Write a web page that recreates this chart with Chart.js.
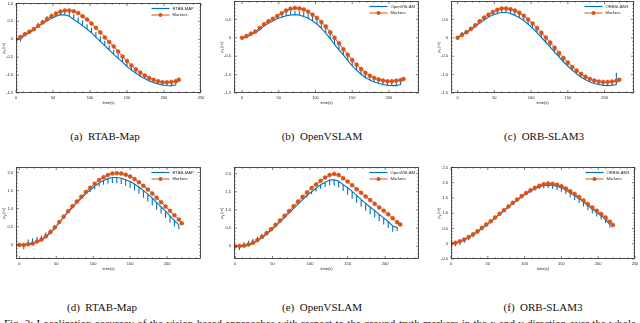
<!DOCTYPE html>
<html>
<head>
<meta charset="utf-8">
<script src="https://cdn.jsdelivr.net/npm/chart.js@4.4.0/dist/chart.umd.min.js"></script>
<style>
  html, body { margin: 0; padding: 0; background: #fff; width: 640px; height: 323px; overflow: hidden; }
  .panel { position: absolute; }
  .cap { position: absolute; font-family: "Liberation Serif", "DejaVu Serif", serif; font-size: 11px; line-height: 13px; color: #111; white-space: pre; transform: translate(-50%, -50%); }
  #figcap { position: absolute; left: 4px; top: 317px; width: 632px; font-family: "Liberation Serif", serif; font-size: 11px; line-height: 13px; color: #222; text-align: justify; }
</style>
</head>
<body>
<div id="figcap">Fig. 3: Localization accuracy of the vision-based approaches with respect to the ground-truth markers in the x and y direction over the whole trajectory of the robot.</div>
<script>
// time stamps of the marker readings (s)
const markerTime = [0, 6, 12, 18, 24, 30, 36, 42, 48, 54, 60, 66, 72, 78, 84, 90, 96, 102, 108, 114, 120, 126, 132, 138, 144, 150, 156, 162, 168, 174, 180, 186, 192, 198, 204, 210, 216, 220]

// x direction (top row)
const markersX_rtab = [0, 0.06, 0.14, 0.21, 0.28, 0.37, 0.47, 0.56, 0.64, 0.71, 0.77, 0.8, 0.8, 0.78, 0.73, 0.64, 0.55, 0.44, 0.32, 0.19, 0.05, -0.08, -0.2, -0.34, -0.48, -0.61, -0.73, -0.84, -0.93, -1.01, -1.08, -1.13, -1.17, -1.2, -1.2, -1.19, -1.17, -1.13]
const rtabX = [0, 0, 0.12, 0.18, 0.26, 0.36, 0.44, 0.52, 0.58, 0.64, 0.68, 0.68, 0.64, 0.55, 0.47, 0.38, 0.28, 0.18, 0.06, -0.06, -0.18, -0.3, -0.42, -0.53, -0.64, -0.76, -0.86, -0.95, -1.03, -1.1, -1.16, -1.21, -1.25, -1.28, -1.29, -1.3, -1.27]
const rtabXJump = [0, -0.06, 0.08, 0.08, 0.08, 0.1, 0.1, 0.12, 0.14, 0.15, 0.15, 0.14, 0.14, 0.14, 0.14, 0.14, 0.14, 0.14, 0.14, 0.14, 0.14, 0.13, 0.13, 0.13, 0.13, 0.12, 0.12, 0.12, 0.11, 0.11, 0.1, 0.1, 0.1, 0.1, 0.1, 0.12, 0.1]

const markersX_ovs = [0, 0.05, 0.11, 0.17, 0.27, 0.37, 0.45, 0.52, 0.59, 0.67, 0.74, 0.79, 0.81, 0.8, 0.77, 0.71, 0.63, 0.54, 0.43, 0.31, 0.15, 0, -0.15, -0.31, -0.46, -0.6, -0.73, -0.85, -0.95, -1.03, -1.09, -1.13, -1.16, -1.18, -1.18, -1.17, -1.15, -1.12]
const ovsX = [0, 0, 0.1, 0.14, 0.22, 0.32, 0.4, 0.46, 0.52, 0.56, 0.6, 0.62, 0.63, 0.62, 0.58, 0.53, 0.46, 0.37, 0.26, 0.13, -0.02, -0.18, -0.33, -0.47, -0.62, -0.76, -0.88, -0.99, -1.08, -1.15, -1.2, -1.24, -1.27, -1.29, -1.3, -1.3, -1.27]
const ovsXJump = [0, 0, 0.07, 0.07, 0.08, 0.08, 0.09, 0.1, 0.1, 0.1, 0.1, 0.1, 0.1, 0.1, 0.12, 0.12, 0.13, 0.14, 0.14, 0.14, 0.14, 0.14, 0.13, 0.13, 0.13, 0.12, 0.12, 0.11, 0.1, 0.1, 0.1, 0.09, 0.09, 0.09, 0.09, 0.08, 0.08]

const markersX_orb = [0, 0.08, 0.15, 0.24, 0.34, 0.45, 0.55, 0.63, 0.7, 0.76, 0.8, 0.8, 0.78, 0.74, 0.68, 0.6, 0.5, 0.39, 0.27, 0.14, 0.01, -0.13, -0.27, -0.41, -0.55, -0.67, -0.79, -0.89, -0.98, -1.06, -1.12, -1.16, -1.19, -1.2, -1.2, -1.19, -1.17, -1.14]
const orbX = [0, 0.1, 0.14, 0.22, 0.3, 0.4, 0.48, 0.56, 0.62, 0.66, 0.69, 0.69, 0.66, 0.61, 0.55, 0.47, 0.37, 0.26, 0.14, 0.01, -0.12, -0.25, -0.39, -0.52, -0.65, -0.77, -0.88, -0.98, -1.07, -1.14, -1.2, -1.24, -1.27, -1.29, -1.3, -1.29, -1.27]
const orbXJump = [0, 0.06, 0.08, 0.08, 0.08, 0.09, 0.1, 0.1, 0.1, 0.1, 0.1, 0.1, 0.1, 0.12, 0.12, 0.12, 0.13, 0.13, 0.13, 0.13, 0.13, 0.12, 0.12, 0.12, 0.12, 0.11, 0.11, 0.1, 0.1, 0.1, 0.1, 0.09, 0.09, 0.09, 0.1, 0.1, 0.32]

// y direction (bottom row)
const markersY_rtab = [0, 0, 0.02, 0.04, 0.09, 0.15, 0.24, 0.35, 0.48, 0.63, 0.78, 0.93, 1.07, 1.2, 1.33, 1.46, 1.58, 1.69, 1.79, 1.87, 1.93, 1.97, 1.98, 1.97, 1.94, 1.89, 1.82, 1.73, 1.63, 1.53, 1.42, 1.3, 1.18, 1.06, 0.94, 0.82, 0.7, 0.6]
const rtabY = [0, 0, 0.01, 0.04, 0.08, 0.13, 0.22, 0.33, 0.46, 0.61, 0.76, 0.9, 1.04, 1.17, 1.29, 1.41, 1.52, 1.62, 1.71, 1.78, 1.83, 1.86, 1.86, 1.84, 1.8, 1.75, 1.68, 1.6, 1.5, 1.4, 1.29, 1.17, 1.05, 0.93, 0.8, 0.67, 0.55]
const rtabYJump = [0, -0.12, 0.14, 0.14, 0.14, 0.13, 0.12, 0.1, 0.08, 0.06, 0.06, 0.05, 0.05, 0.05, 0.05, 0.05, -0.06, -0.08, -0.1, -0.12, -0.14, -0.15, -0.16, -0.16, -0.17, -0.18, -0.18, -0.19, -0.2, -0.2, -0.2, -0.2, -0.18, -0.18, -0.18, -0.16, -0.12]

const markersY_ovs = [0, 0.01, 0.02, 0.05, 0.1, 0.17, 0.26, 0.36, 0.47, 0.59, 0.71, 0.84, 0.97, 1.1, 1.23, 1.36, 1.48, 1.6, 1.7, 1.8, 1.89, 1.96, 1.99, 1.96, 1.87, 1.78, 1.68, 1.57, 1.47, 1.37, 1.27, 1.17, 1.07, 0.98, 0.88, 0.77, 0.66, 0.6]
const ovsY = [0, 0, -0.01, 0.03, 0.08, 0.15, 0.24, 0.33, 0.44, 0.55, 0.67, 0.79, 0.92, 1.04, 1.16, 1.28, 1.4, 1.5, 1.6, 1.69, 1.76, 1.82, 1.83, 1.79, 1.7, 1.61, 1.51, 1.4, 1.29, 1.18, 1.08, 0.98, 0.88, 0.78, 0.68, 0.56, 0.52]
const ovsYJump = [0, -0.1, 0.12, 0.12, 0.12, 0.12, 0.1, 0.1, 0.08, 0.07, 0.06, 0.05, 0.05, 0.05, 0.05, 0.05, -0.06, -0.07, -0.09, -0.11, -0.13, -0.15, -0.16, -0.17, -0.18, -0.19, -0.2, -0.2, -0.2, -0.2, -0.2, -0.19, -0.19, -0.18, -0.18, -0.16, -0.1]

const markersY_orb = [0, 0.03, 0.08, 0.14, 0.22, 0.31, 0.41, 0.52, 0.63, 0.74, 0.86, 0.98, 1.1, 1.22, 1.34, 1.45, 1.56, 1.66, 1.75, 1.83, 1.9, 1.95, 1.97, 1.96, 1.93, 1.88, 1.81, 1.72, 1.63, 1.53, 1.42, 1.3, 1.19, 1.08, 0.97, 0.86, 0.72, 0.61]
const orbY = [0, 0.02, 0.06, 0.12, 0.2, 0.29, 0.39, 0.5, 0.61, 0.72, 0.84, 0.96, 1.08, 1.2, 1.32, 1.43, 1.54, 1.64, 1.73, 1.81, 1.87, 1.91, 1.92, 1.91, 1.88, 1.83, 1.76, 1.67, 1.58, 1.48, 1.37, 1.25, 1.14, 1.03, 0.92, 0.8, 0.62]
const orbYJump = [0, -0.1, -0.1, -0.1, -0.09, -0.08, -0.07, -0.06, -0.05, -0.05, -0.04, -0.04, -0.04, -0.04, -0.04, -0.05, -0.05, -0.05, -0.06, -0.07, -0.08, -0.09, -0.1, -0.11, -0.12, -0.13, -0.14, -0.15, -0.15, -0.15, -0.15, -0.15, -0.14, -0.14, -0.13, -0.12, -0.1]

const methodNames = ['RTAB-MAP', 'OpenVSLAM', 'ORBSLAM3']
const captions = ['(a)  RTAB-Map', '(b)  OpenVSLAM', '(c)  ORB-SLAM3', '(d)  RTAB-Map', '(e)  OpenVSLAM', '(f)  ORB-SLAM3']
const timeTicks = [0, 50, 100, 150, 200, 250]
const posTicksX = [-1.5, -1, -0.5, 0, 0.5, 1]
const posTicksY = [-0.5, 0, 0.5, 1, 1.5, 2, 2.5]

const BLUE = '#0072BD'
const ORANGE = '#D95319'
const INK = '#262626'
const SANS = '"Liberation Sans", Arial, sans-serif'

// panel boxes on the page (plot area) and axis limits
const panels = [
  { box: [16, 2, 201, 93], x: [0, 250], y: [-1.5, 1], axis: 'x', name: methodNames[0], track: rtabX, jump: rtabXJump, markers: markersX_rtab, cap: [105, 136] },
  { box: [234, 0, 419, 93], x: [-11, 241], y: [-1.5, 0.99], axis: 'x', name: methodNames[1], track: ovsX, jump: ovsXJump, markers: markersX_ovs, cap: [322, 136] },
  { box: [451, 0, 634, 93], x: [-9, 240], y: [-1.5, 0.99], axis: 'x', name: methodNames[2], track: orbX, jump: orbXJump, markers: markersX_orb, cap: [544, 136] },
  { box: [16, 166, 201, 259], x: [-4.5, 246], y: [-0.39, 2.14], axis: 'y', name: methodNames[0], track: rtabY, jump: rtabYJump, markers: markersY_rtab, cap: [102, 306.5] },
  { box: [234, 166, 419, 259], x: [-1.3, 245], y: [-0.35, 2.17], axis: 'y', name: methodNames[1], track: ovsY, jump: ovsYJump, markers: markersY_ovs, cap: [322, 306.5] },
  { box: [451, 166, 635, 259], x: [0, 250], y: [-0.5, 2.5], axis: 'y', name: methodNames[2], track: orbY, jump: orbYJump, markers: markersY_orb, cap: [543, 306.5] }
]

// estimated track: value at each reading plus the correction spike
function trackPoints(t, v, jump) {
  const pts = []
  v.forEach((y, i) => {
    pts.push({ x: t[i], y })
    if (jump[i]) {
      pts.push({ x: t[i], y: y + jump[i] })
      pts.push({ x: t[i], y })
    }
  })
  return pts
}

// only the listed tick values that fall inside the axis limits
const fixedTicks = list => s => {
  s.ticks = list.filter(v => v >= s.min - 1e-9 && v <= s.max + 1e-9).map(v => ({ value: v }))
}

// matlab style box, inward ticks, legend and y label
const frame = {
  id: 'frame',
  afterDatasetsDraw(chart, args, opts) {
    const { ctx, chartArea: a, scales } = chart
    const L = Math.round(a.left) + 0.5, R = Math.round(a.right) - 0.5
    const T = Math.round(a.top) + 0.5, B = Math.round(a.bottom) - 0.5
    ctx.save()
    ctx.strokeStyle = INK
    ctx.lineWidth = 0.8
    ctx.strokeRect(L, T, R - L, B - T)

    const tick = (x1, y1, x2, y2) => { ctx.beginPath(); ctx.moveTo(x1, y1); ctx.lineTo(x2, y2); ctx.stroke() }
    const xs = scales.x, ys = scales.y
    ctx.lineWidth = 0.6
    for (let v = Math.ceil(xs.min / 10) * 10; v <= xs.max; v += 10) {
      const px = xs.getPixelForValue(v)
      const len = v % 50 === 0 ? 2.5 : 1.2
      tick(px, B, px, B - len); tick(px, T, px, T + len)
    }
    for (let k = Math.ceil(ys.min * 10 - 1e-6); k <= ys.max * 10 + 1e-6; k++) {
      const py = ys.getPixelForValue(k / 10)
      const len = k % 5 === 0 ? 2.5 : 1.2
      tick(L, py, L + len, py); tick(R, py, R - len, py)
    }

    // legend
    ctx.font = '4.2px ' + SANS
    ctx.textBaseline = 'middle'
    const lx = R - 49, r1 = T + 5, r2 = T + 11.5
    ctx.lineWidth = 1.2
    ctx.strokeStyle = BLUE
    tick(lx, r1, lx + 18, r1)
    ctx.strokeStyle = ORANGE
    ctx.lineWidth = 1
    tick(lx, r2, lx + 18, r2)
    ctx.fillStyle = ORANGE
    ctx.beginPath(); ctx.arc(lx + 9, r2, 2, 0, Math.PI * 2); ctx.fill()
    ctx.fillStyle = INK
    ctx.fillText(opts.name, lx + 21, r1 + 0.3)
    ctx.fillText('Markers', lx + 21, r2 + 0.3)

    // y label: p_x [m] / p_y [m]
    const cy = (a.top + a.bottom) / 2
    ctx.translate(a.left - 13, cy)
    ctx.rotate(-Math.PI / 2)
    ctx.textBaseline = 'alphabetic'
    ctx.font = '4px ' + SANS
    const w1 = ctx.measureText('p').width
    const w3 = ctx.measureText(' [m]').width
    ctx.font = '3.2px ' + SANS
    const w2 = ctx.measureText(opts.axis).width
    const x0 = -(w1 + w2 + w3) / 2
    ctx.font = '4px ' + SANS
    ctx.fillText('p', x0, 1.5)
    ctx.fillText(' [m]', x0 + w1 + w2, 1.5)
    ctx.font = '3.2px ' + SANS
    ctx.fillText(opts.axis, x0 + w1, 2.8)
    ctx.restore()
  }
}

const padL = 2, axW = 14, padR = 8, padT = 4, axH = 14, padB = 2

panels.forEach((p, i) => {
  const [cl, ct, cr, cb] = p.box
  const cw = cr - cl + padL + axW + padR
  const ch = cb - ct + padT + axH + padB
  const wrap = document.createElement('div')
  wrap.className = 'panel'
  wrap.style.left = (cl - padL - axW) + 'px'
  wrap.style.top = (ct - padT) + 'px'
  const cv = document.createElement('canvas')
  cv.width = cw
  cv.height = ch
  cv.style.width = cw + 'px'
  cv.style.height = ch + 'px'
  wrap.appendChild(cv)
  document.body.appendChild(wrap)

  const tickFont = { family: SANS, size: 4 }
  new Chart(cv.getContext('2d'), {
    type: 'line',
    data: {
      datasets: [
        {
          label: p.name,
          data: trackPoints(markerTime, p.track, p.jump),
          borderColor: BLUE,
          borderWidth: 1.1,
          pointRadius: 0,
          tension: 0,
          order: 1
        },
        {
          label: 'Markers',
          data: markerTime.map((t, k) => ({ x: t, y: p.markers[k] })),
          borderColor: ORANGE,
          backgroundColor: ORANGE,
          borderWidth: 1,
          pointRadius: 2,
          pointBorderWidth: 0.5,
          tension: 0,
          order: 0
        }
      ]
    },
    options: {
      responsive: false,
      animation: false,
      events: [],
      layout: { padding: { left: padL, right: padR, top: padT, bottom: padB } },
      plugins: {
        legend: { display: false },
        tooltip: { enabled: false },
        frame: { name: p.name, axis: p.axis }
      },
      scales: {
        x: {
          type: 'linear',
          min: p.x[0],
          max: p.x[1],
          grid: { display: false, drawTicks: false },
          border: { display: false },
          afterBuildTicks: fixedTicks(timeTicks),
          ticks: { autoSkip: false, maxRotation: 0, padding: 2, color: INK, font: tickFont },
          title: { display: true, text: 'time(s)', color: INK, font: tickFont, padding: { top: 0, bottom: 2 } },
          afterFit: s => { s.height = axH }
        },
        y: {
          type: 'linear',
          min: p.y[0],
          max: p.y[1],
          grid: { display: false, drawTicks: false },
          border: { display: false },
          afterBuildTicks: fixedTicks(p.axis === 'x' ? posTicksX : posTicksY),
          ticks: { autoSkip: false, padding: 3, color: INK, font: tickFont },
          afterFit: s => { s.width = axW }
        }
      }
    },
    plugins: [frame]
  })

  const cap = document.createElement('div')
  cap.className = 'cap'
  cap.textContent = captions[i]
  cap.style.left = p.cap[0] + 'px'
  cap.style.top = p.cap[1] + 'px'
  document.body.appendChild(cap)
})
</script>
</body>
</html>
